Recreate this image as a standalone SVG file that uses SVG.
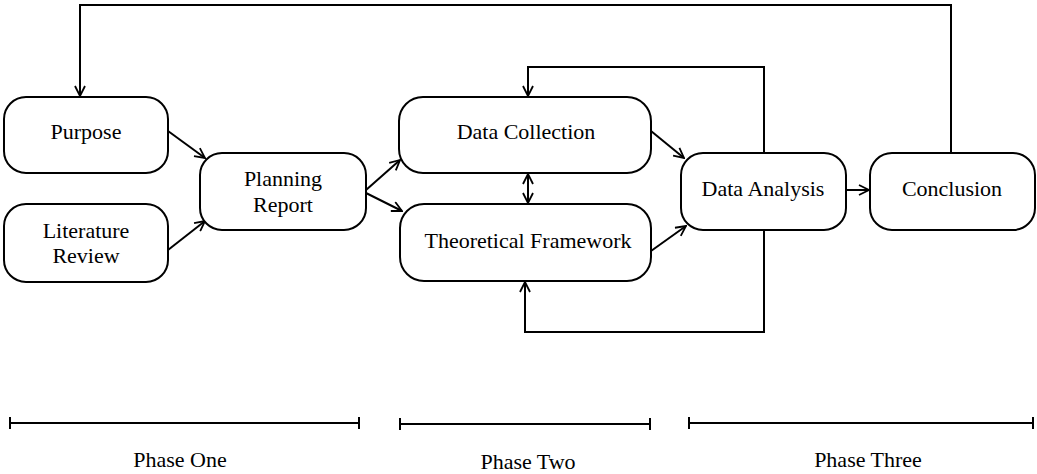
<svg xmlns="http://www.w3.org/2000/svg" width="1037" height="474" viewBox="0 0 1037 474">
<style>
.box{fill:#fff;stroke:#000;stroke-width:2}
.t{font-family:"Liberation Serif","DejaVu Serif",serif;font-size:22px;fill:#000;text-anchor:middle}
.c{fill:none;stroke:#000;stroke-width:2}
</style>
<defs>
<marker id="a" viewBox="0 0 12 12" refX="11" refY="6" markerWidth="12" markerHeight="12" markerUnits="userSpaceOnUse" orient="auto-start-reverse">
<path d="M1,1 L11,6 L1,11" fill="none" stroke="#000" stroke-width="1.8"/>
</marker>
</defs>
<rect width="1037" height="474" fill="#fff"/>
<g id="connectors">
<path class="c" d="M951,153 V5 H80 V96" marker-end="url(#a)"/>
<path class="c" d="M764,153 V67 H528 V96" marker-end="url(#a)"/>
<path class="c" d="M764,230 V332 H525 V282" marker-end="url(#a)"/>
<path class="c" d="M528,174 V203" marker-start="url(#a)" marker-end="url(#a)"/>
<path class="c" d="M168,131 L205,158" marker-end="url(#a)"/>
<path class="c" d="M168,250 L205,221" marker-end="url(#a)"/>
<path class="c" d="M366,190 L400,160" marker-end="url(#a)"/>
<path class="c" d="M366,193 L402,211" marker-end="url(#a)"/>
<path class="c" d="M651,131 L684,158" marker-end="url(#a)"/>
<path class="c" d="M651,251 L686,226" marker-end="url(#a)"/>
<path class="c" d="M846,190 L869,190" marker-end="url(#a)"/>
</g>
<g id="purpose"><rect class="box" x="4" y="97" width="164" height="76" rx="22"/><text class="t" x="86" y="139">Purpose</text></g>
<g id="literature"><rect class="box" x="4" y="204" width="164" height="78" rx="22"/><text class="t" x="86" y="238">Literature</text><text class="t" x="86" y="263">Review</text></g>
<g id="planning"><rect class="box" x="200" y="153" width="166" height="77" rx="22"/><text class="t" x="283" y="186">Planning</text><text class="t" x="283" y="212">Report</text></g>
<g id="datacollection"><rect class="box" x="399" y="97" width="252" height="76" rx="24"/><text class="t" x="526" y="139">Data Collection</text></g>
<g id="theoretical"><rect class="box" x="400" y="204" width="251" height="77" rx="24"/><text class="t" x="528" y="248">Theoretical Framework</text></g>
<g id="dataanalysis"><rect class="box" x="681" y="153" width="165" height="77" rx="22"/><text class="t" x="763" y="196">Data Analysis</text></g>
<g id="conclusion"><rect class="box" x="870" y="153" width="165" height="77" rx="22"/><text class="t" x="952" y="196">Conclusion</text></g>
<g id="phases">
<path class="c" d="M10,423 H359 M10,417 V429 M359,417 V429"/>
<path class="c" d="M400,424 H650 M400,418 V430 M650,418 V430"/>
<path class="c" d="M689,423 H1033 M689,417 V429 M1033,417 V429"/>
<text class="t" x="180" y="467">Phase One</text>
<text class="t" x="528" y="469">Phase Two</text>
<text class="t" x="868" y="467">Phase Three</text>
</g>
</svg>
